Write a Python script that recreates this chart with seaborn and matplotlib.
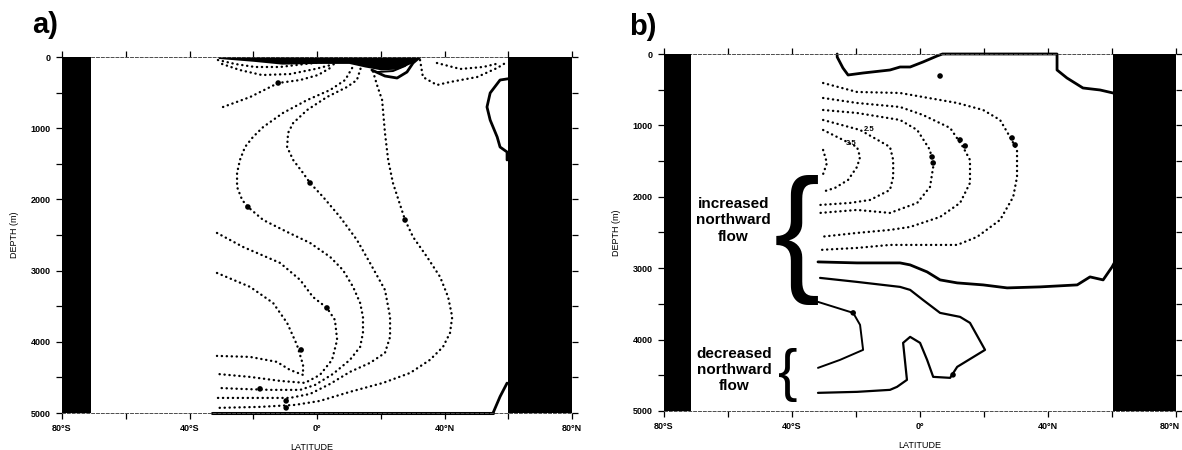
import numpy as np
import pandas as pd
import matplotlib
matplotlib.use("Agg")
import matplotlib.pyplot as plt
from matplotlib.transforms import ScaledTranslation
import seaborn as sns

sns.set_theme(style="ticks")
plt.rcParams["font.family"] = ["Liberation Sans", "DejaVu Sans"]
plt.rcParams["text.color"] = "black"
plt.rcParams["axes.labelcolor"] = "black"
plt.rcParams["xtick.color"] = "black"
plt.rcParams["ytick.color"] = "black"

# ---------------- axis data ----------------
xticks_major = [-80, -40, 0, 40, 80]
xticks_minor = [-60, -20, 20, 60]
xtick_labels = ["80°S", "40°S", "0°", "40°N", "80°N"]
yticks_major = [0, 1000, 2000, 3000, 4000, 5000]
yticks_minor = [500, 1500, 2500, 3500, 4500]

# land masks (lat ranges)
land_a = [(-80, -71), (60, 80)]
land_b = [(-80, -71.5), (60.3, 80)]

# ---------------- panel a : dotted contours ----------------
a_L1_lat = [-29.5, -21.0, -12.2, -5.3, 0.3, 4.1]
a_L1_dep = [702, 562, 365, 323, 253, 154]

a_L2_lat = [11.0, 8.8, 4.1, -3.1, -10.7, -16.9, -20.1, -22.6, -24.2, -25.1, -25.1, -23.5, -21.7, -16.9,
            -9.4, -2.2, 4.1, 8.1, 11.3, 13.5, 14.4, 14.4, 13.5, 10.3, 5.0, -0.6, -5.3, -14.7, -24.2, -31.4]
a_L2_dep = [154, 323, 463, 604, 786, 983, 1123, 1264, 1446, 1629, 1825, 2008, 2106, 2289,
            2457, 2611, 2808, 2991, 3229, 3454, 3650, 3875, 4072, 4254, 4451, 4605, 4675, 4675, 4661, 4647]

a_L3_lat = [14.1, 12.5, 9.4, 3.1, -3.1, -7.5, -9.1, -9.4, -7.5, -4.4, -2.2, 1.9, 7.2, 12.5, 16.6, 21.3,
            22.9, 22.9, 21.3, 16.6, 10.3, 4.1, -2.2, -8.5, -17.9, -31.4]
a_L3_dep = [98, 323, 421, 562, 744, 927, 1067, 1264, 1446, 1629, 1769, 1966, 2246, 2569, 2892, 3271,
            3650, 3931, 4156, 4296, 4423, 4591, 4732, 4788, 4788, 4788]

a_L4_lat = [16.6, 17.6, 18.8, 20.4, 21.3, 22.3, 23.8, 27.6, 30.1, 34.5, 38.6, 41.1, 42.4, 41.7, 39.5,
            35.4, 29.2, 20.7, 10.3, 0.9, -6.9, -17.9, -31.4]
a_L4_dep = [70, 211, 393, 604, 1067, 1446, 1769, 2289, 2527, 2808, 3089, 3370, 3650, 3875, 4072,
            4254, 4437, 4577, 4703, 4830, 4886, 4914, 4928]

a_L5_lat = [-31.4, -23.2, -11.6, -5.3, -1.3, 3.1, 5.6, 6.3, 4.7, 0.9, -3.8, -11.6, -21.0, -31.4]
a_L5_dep = [2471, 2668, 2892, 3131, 3370, 3524, 3693, 3973, 4254, 4465, 4577, 4549, 4493, 4451]

a_L6_lat = [-31.4, -21.0, -13.8, -9.4, -6.3, -4.4, -4.4, -8.5, -12.6, -21.0, -31.4]
a_L6_dep = [3033, 3229, 3454, 3735, 4044, 4324, 4465, 4395, 4282, 4212, 4198]

a_S1_lat = [-31.1, -25.7, -19.5, -11.6, -3.8, 2.5]
a_S1_dep = [42, 98, 140, 140, 98, 70]
a_S2_lat = [-29.8, -24.2, -17.3, -8.5, -0.6, 5.6]
a_S2_dep = [98, 183, 253, 239, 168, 98]

a_TR1_lat = [32.3, 33.2, 37.6, 41.7, 50.2, 56.5, 59.6]
a_TR1_dep = [42, 281, 393, 351, 281, 154, 70]
a_TR2_lat = [37.6, 44.9, 52.1, 57.4]
a_TR2_dep = [84, 168, 140, 84]

# panel a : solid contours
a_band_lat = [-31, -20, -11, 0, 10, 15, 20, 25, 30, 32]
a_band_dep = [20, 60, 100, 90, 90, 140, 180, 170, 80, 0]
a_lens1_lat = [17.2, 21.3, 25.1, 28.2, 30.1, 32.3]
a_lens1_dep = [183, 267, 295, 211, 84, 0]
a_lens2_lat = [18.8, 23.8, 27.6, 29.8]
a_lens2_dep = [211, 197, 126, 42]
a_wall_lat = [61.5, 57.4, 54.3, 53.3, 54.3, 56.5, 57.4, 59.6, 59.6]
a_wall_dep = [295, 323, 505, 702, 885, 1123, 1264, 1334, 1446]
a_br_lat = [55.2, 57.4, 59.6]
a_br_dep = [5000, 4770, 4580]
a_bottom_lat = [-33, 55.2]
a_bottom_dep = [5000, 5000]

a_blob_lat = [-12.2, -21.7, -2.2, 3.1, -5.0, -17.9, -9.7, -9.7, 27.6]
a_blob_dep = [365, 2106, 1769, 3524, 4114, 4661, 4830, 4928, 2289]

# ---------------- panel b ----------------
b_S1_lat = [-25.9, -25.9, -24.1, -22.5, -17.8, -9.4, -6.25, -3.1, 0.9, 5.3, 7.0, 42.8, 42.8, 45.9, 50.9, 56.25, 60.3, 62.5]
b_S1_dep = [0, 42, 196, 294, 266, 224, 182, 182, 112, 28, 0, 0, 224, 336, 476, 504, 546, 574]

b_S2_lat = [-31.9, -19.7, -6.25, -3.1, 2.2, 6.25, 11.6, 19.7, 27.2, 37.5, 49.1, 53.1, 57.2, 60.0, 61.0]
b_S2_dep = [2912, 2926, 2926, 2954, 3052, 3164, 3206, 3234, 3276, 3262, 3234, 3122, 3164, 2982, 2900]

b_S3_lat = [-31.25, -19.7, -6.25, -3.1, 0.9, 6.25, 12.5, 15.6, 20.3, 11.6, 9.4, 4.1, 2.2, 0.0, -3.1,
            -5.3, -4.1, -7.2, -9.4, -19.7, -31.9]
b_S3_dep = [3136, 3192, 3262, 3304, 3444, 3626, 3682, 3766, 4144, 4382, 4536, 4522, 4284, 4046, 3962,
            4046, 4564, 4662, 4704, 4732, 4746]

b_S4_lat = [-31.9, -21.9, -20.9, -18.75, -17.8, -25.0, -31.9]
b_S4_dep = [3472, 3612, 3626, 3794, 4144, 4284, 4396]

b_D1_lat = [-30.3, -19.7, -6.25, 0.9, 11.6, 19.7, 25.0, 28.1, 30.3, 30.3, 29.1, 25.0, 17.8, 11.6, 0.9, -9.4, -19.7, -31.25]
b_D1_dep = [406, 532, 546, 602, 686, 784, 924, 1162, 1344, 1722, 2002, 2324, 2562, 2674, 2674, 2674, 2716, 2744]

b_D2_lat = [-30.3, -19.7, -6.25, 0.9, 9.4, 13.4, 15.6, 15.6, 12.5, 6.25, -3.1, -9.4, -19.7, -31.25]
b_D2_dep = [616, 686, 742, 854, 1036, 1302, 1484, 1806, 2086, 2282, 2422, 2464, 2506, 2562]

b_D3_lat = [-30.3, -19.7, -6.25, -0.9, 3.1, 4.1, 3.1, -0.9, -9.4, -19.7, -31.25]
b_D3_dep = [784, 826, 924, 1064, 1344, 1582, 1862, 2086, 2226, 2184, 2226]

b_D4_lat = [-30.3, -18.75, -9.4, -8.4, -8.4, -9.4, -15.6, -21.9, -31.25]
b_D4_dep = [924, 1064, 1302, 1484, 1722, 1904, 2044, 2086, 2114]

b_D5_lat = [-30.3, -22.8, -19.7, -18.75, -19.7, -22.5, -26.6, -30.6]
b_D5_dep = [1064, 1232, 1302, 1442, 1582, 1764, 1876, 1932]

b_D6_lat = [-30.3, -29.1, -30.6]
b_D6_dep = [1344, 1526, 1722]

b_blob_lat = [28.75, 29.7, 12.5, 14.1, 3.75, 4.1, 10.3, -20.9, 6.25]
b_blob_dep = [1176, 1274, 1204, 1288, 1442, 1526, 4494, 3626, 308]

b_label_text = ["2.5", "3.5"]
b_label_lat = [-16.0, -21.5]
b_label_dep = [1064, 1250]

# ---------------- figure ----------------
fig = plt.figure(figsize=(11.82, 4.5), dpi=100)
axa = fig.add_axes([0.0525, 0.0822, 0.4315, 0.7911])
axb = fig.add_axes([0.5618, 0.0867, 0.4332, 0.7933])

DOT = dict(linestyle=(0, (0.1, 2.0)), dash_capstyle="round", lw=1.7)


def line(ax, lat, dep, dotted=False, lw=1.6, clip=True):
    df = pd.DataFrame({"lat": lat, "depth": dep})
    kw = dict(DOT) if dotted else dict(linestyle="-", lw=lw, solid_capstyle="round")
    sns.lineplot(data=df, x="lat", y="depth", sort=False, estimator=None,
                 ax=ax, color="black", **kw)
    if not clip:
        ax.get_lines()[-1].set_clip_on(False)


def blobs(ax, lat, dep):
    sns.scatterplot(x=lat, y=dep, ax=ax, s=16, color="black", edgecolor="none", legend=False, zorder=5)


def frame(ax, land):
    for lo, hi in land:
        ax.axvspan(lo, hi, color="black", lw=0, zorder=4)
    ax.set_xlim(-80, 80)
    ax.set_ylim(5000, 0)
    ax.set_xticks(xticks_major)
    ax.set_xticks(xticks_minor, minor=True)
    ax.set_xticklabels(xtick_labels)
    ax.set_yticks(yticks_major)
    ax.set_yticks(yticks_minor, minor=True)
    ax.tick_params(which="both", direction="out", top=True, right=True, bottom=True, left=True,
                   length=4, width=0.9, color="black", labelcolor="black", labelsize=6.5, pad=4,
                   labeltop=False, labelright=False)
    for lab in ax.get_xticklabels() + ax.get_yticklabels():
        lab.set_fontweight("bold")
    for s in ["left", "right"]:
        ax.spines[s].set_visible(False)
    for s in ["top", "bottom"]:
        ax.spines[s].set_linestyle((0, (3, 2)))
        ax.spines[s].set_linewidth(0.7)
        ax.spines[s].set_color("0.3")
    ax.set_ylabel("DEPTH (m)", fontsize=6.5, color="black")
    ax.set_xlabel("LATITUDE", fontsize=6.5, color="black")
    ax.yaxis.set_label_coords(-0.085, 0.5)
    ax.xaxis.set_label_coords(0.49, -0.085)
    ax.grid(False)


# panel a
for lat, dep in [(a_L1_lat, a_L1_dep), (a_L2_lat, a_L2_dep), (a_L3_lat, a_L3_dep), (a_L4_lat, a_L4_dep),
                 (a_L5_lat, a_L5_dep), (a_L6_lat, a_L6_dep), (a_S1_lat, a_S1_dep), (a_S2_lat, a_S2_dep),
                 (a_TR1_lat, a_TR1_dep), (a_TR2_lat, a_TR2_dep)]:
    line(axa, lat, dep, dotted=True)
axa.fill_between(a_band_lat, 0, a_band_dep, color="black", lw=0, zorder=3)
line(axa, a_lens1_lat, a_lens1_dep, lw=2.0)
line(axa, a_lens2_lat, a_lens2_dep, lw=1.4)
line(axa, a_wall_lat, a_wall_dep, lw=2.0)
line(axa, a_br_lat, a_br_dep, lw=2.0, clip=False)
line(axa, a_bottom_lat, a_bottom_dep, lw=2.2, clip=False)
blobs(axa, a_blob_lat, a_blob_dep)
frame(axa, land_a)

# panel b
for lat, dep in [(b_D1_lat, b_D1_dep), (b_D2_lat, b_D2_dep), (b_D3_lat, b_D3_dep), (b_D4_lat, b_D4_dep),
                 (b_D5_lat, b_D5_dep), (b_D6_lat, b_D6_dep)]:
    line(axb, lat, dep, dotted=True)
line(axb, b_S1_lat, b_S1_dep, lw=2.0, clip=False)
line(axb, b_S2_lat, b_S2_dep, lw=2.0)
line(axb, b_S3_lat, b_S3_dep, lw=1.6)
line(axb, b_S4_lat, b_S4_dep, lw=1.4)
blobs(axb, b_blob_lat, b_blob_dep)
for t, la, de in zip(b_label_text, b_label_lat, b_label_dep):
    axb.text(la, de, t, fontsize=5.5, fontweight="bold", ha="center", va="center", zorder=6)
frame(axb, land_b)
axb.xaxis.set_label_coords(0.5, -0.085)

# annotations in panel b
axb.text(-58.4, 2330, "increased\nnorthward\nflow", fontsize=11, fontweight="bold",
         ha="center", va="center", linespacing=1.2, color="black")
axb.text(-58.1, 4424, "decreased\nnorthward\nflow", fontsize=11, fontweight="bold",
         ha="center", va="center", linespacing=1.2, color="black")
axb.text(-38.4, 2604, "{", fontsize=100, fontweight="normal", ha="center", va="center",
         family="Liberation Sans", color="black")
axb.text(-41.25, 4494, "{", fontsize=42, fontweight="normal", ha="center", va="center",
         family="Liberation Sans", color="black")

fig.text(32 / 1182, 1 - 11 / 450, "a)", fontsize=21, fontweight="bold", ha="left", va="top")
fig.text(629 / 1182, 1 - 13 / 450, "b)", fontsize=21, fontweight="bold", ha="left", va="top")

# keep the last tick label of panel b inside the figure
fig.canvas.draw()
last = axb.get_xticklabels()[-1]
last.set_transform(last.get_transform() + ScaledTranslation(-6 / 100, 0, fig.dpi_scale_trans))

fig.savefig("out.png", dpi=100, facecolor="white")
